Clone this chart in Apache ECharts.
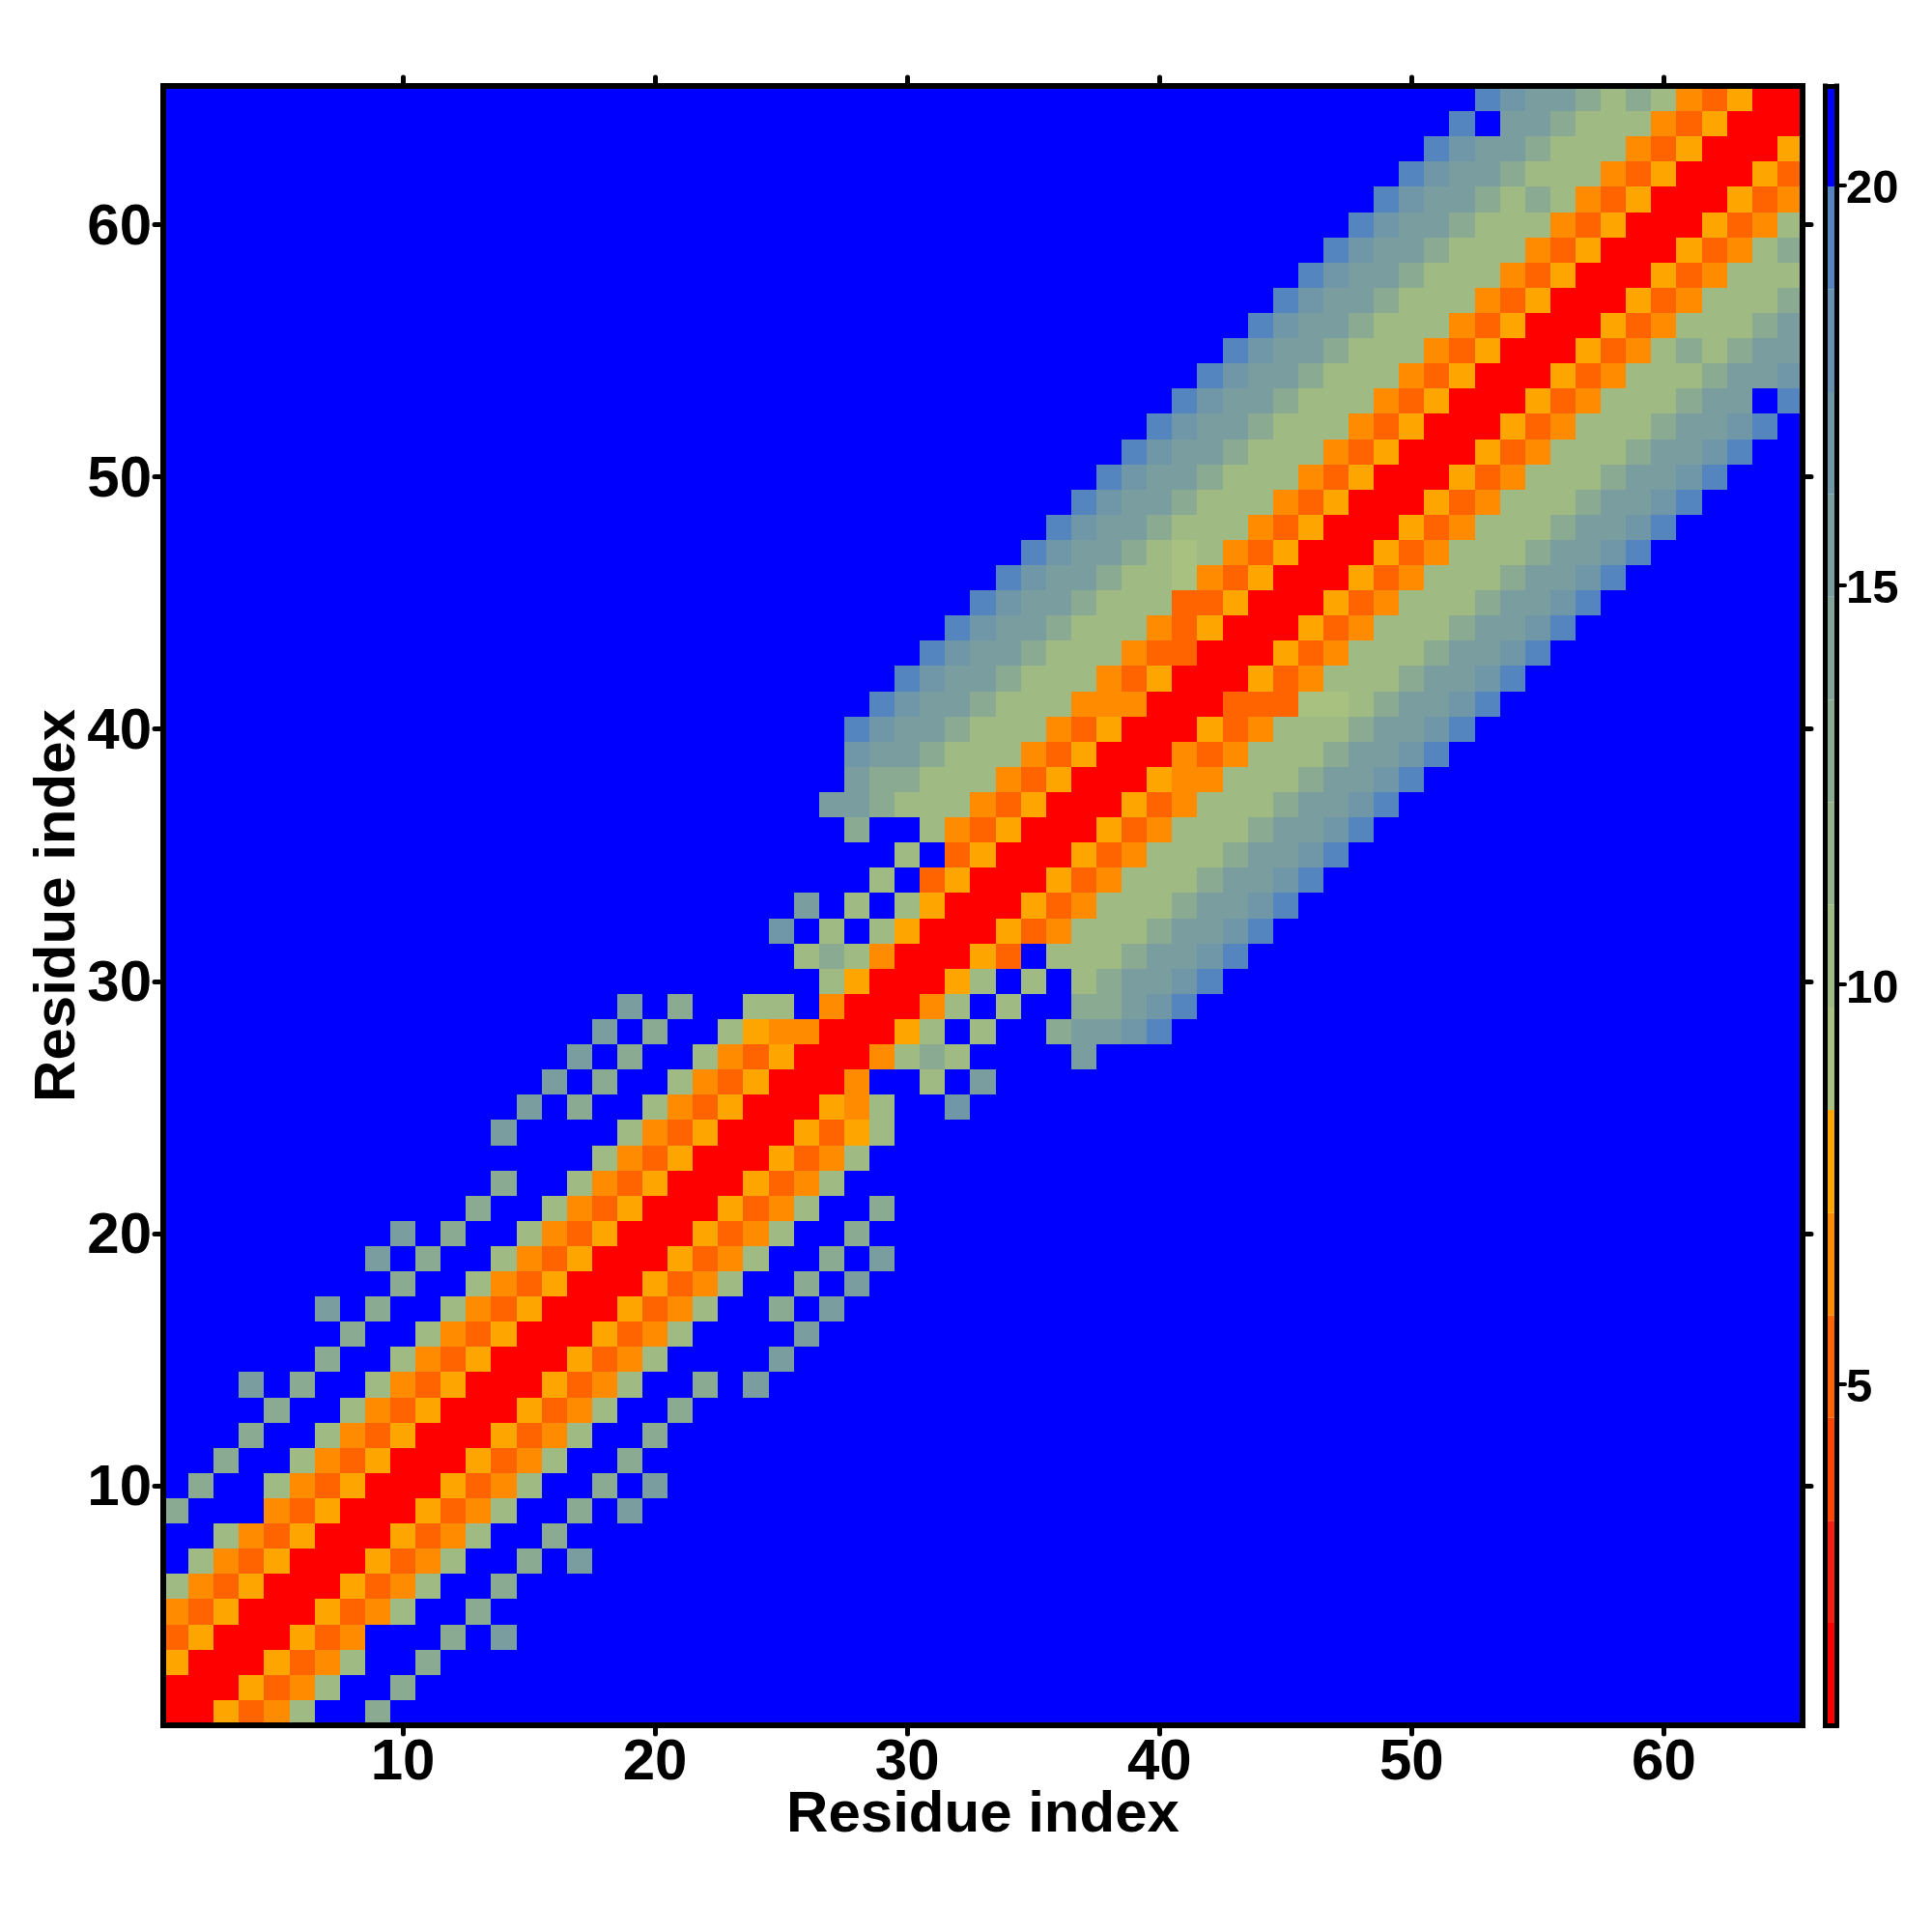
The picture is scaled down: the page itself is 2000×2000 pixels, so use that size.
<!DOCTYPE html>
<html>
<head>
<meta charset="utf-8">
<style>html,body{margin:0;padding:0;background:#fff}#chart{width:2000px;height:2000px}</style>
<script src="https://cdn.jsdelivr.net/npm/echarts@6/dist/echarts.min.js"></script>
</head>
<body>
<div id="chart"></div>
<script>
const residues = Array.from({length: 65}, (_, i) => String(i + 1));
const axisTitle = "Residue index";
const mainTickStep = 10;
const colorbarTicks = [5, 10, 15, 20];
const farDistance = 21;

// Upper half of the symmetric distance map: row i lists residues i, i+1, i+2, ...
// anything past the end of a row is farDistance.
const distanceRows = [
/*  1 */ [1.5,1.5,7.8,5.2,6.5,10.3,21,21,12.9],
/*  2 */ [1.5,1.5,7.8,5.2,6.5,10.3,21,21,12.9],
/*  3 */ [1.5,1.5,7.8,5.2,6.5,10.3,21,21,12.9],
/*  4 */ [1.5,1.5,7.8,5.2,6.5,21,21,21,12.9,21,15.5],
/*  5 */ [1.5,1.5,7.8,5.2,6.5,10.3,21,21,12.9],
/*  6 */ [1.5,1.5,7.8,5.2,6.5,10.3,21,21,12.9],
/*  7 */ [1.5,1.5,7.8,5.2,6.5,10.3,21,21,12.9,21,15.5],
/*  8 */ [1.5,1.5,7.8,5.2,6.5,10.3,21,21,12.9],
/*  9 */ [1.5,1.5,7.8,5.2,6.5,10.3,21,21,12.9,21,15.5],
/* 10 */ [1.5,1.5,7.8,5.2,6.5,10.3,21,21,12.9,21,15.5],
/* 11 */ [1.5,1.5,7.8,5.2,6.5,10.3,21,21,12.9],
/* 12 */ [1.5,1.5,7.8,5.2,6.5,10.3,21,21,12.9],
/* 13 */ [1.5,1.5,7.8,5.2,6.5,10.3,21,21,12.9],
/* 14 */ [1.5,1.5,7.8,5.2,6.5,10.3,21,21,12.9,21,15.5],
/* 15 */ [1.5,1.5,7.8,5.2,6.5,10.3,21,21,21,21,15.5],
/* 16 */ [1.5,1.5,7.8,5.2,6.5,10.3,21,21,21,21,15.5],
/* 17 */ [1.5,1.5,7.8,5.2,6.5,10.3,21,21,12.9,21,15.5],
/* 18 */ [1.5,1.5,7.8,5.2,6.5,10.3,21,21,12.9,21,15.5],
/* 19 */ [1.5,1.5,7.8,5.2,6.5,10.3,21,21,12.9,21,15.5],
/* 20 */ [1.5,1.5,7.8,5.2,6.5,10.3,21,21,12.9],
/* 21 */ [1.5,1.5,7.8,5.2,6.5,10.3,21,21,12.9],
/* 22 */ [1.5,1.5,7.8,5.2,6.5,10.3],
/* 23 */ [1.5,1.5,7.8,5.2,6.5,10.3],
/* 24 */ [1.5,1.5,7.8,5.2,7.8,10.3],
/* 25 */ [1.5,1.5,7.8,6.5,10.3,21,21,16.8],
/* 26 */ [1.5,1.5,6.5,21,21,10.3,21,15.5],
/* 27 */ [1.5,1.5,6.5,10.3,12.9,10.3,21,21,21,21,15.5],
/* 28 */ [1.5,1.5,7.8,10.3,21,10.3,21,21,12.9,15.5,15.5,16.8,19.4],
/* 29 */ [1.5,1.5,6.5,10.3,21,10.3,21,21,12.9,12.9,15.5,16.8,19.4],
/* 30 */ [1.5,1.5,7.8,10.3,21,10.3,21,10.3,12.9,15.5,15.5,16.8,19.4],
/* 31 */ [1.5,1.5,7.8,5.2,21,10.3,10.3,10.3,12.9,15.5,15.5,16.8,19.4],
/* 32 */ [1.5,1.5,7.8,5.2,6.5,10.3,10.3,10.3,12.9,15.5,15.5,16.8,19.4],
/* 33 */ [1.5,1.5,7.8,5.2,6.5,10.3,10.3,10.3,12.9,15.5,15.5,16.8,19.4],
/* 34 */ [1.5,1.5,7.8,5.2,6.5,10.3,10.3,10.3,12.9,15.5,15.5,16.8,19.4],
/* 35 */ [1.5,1.5,7.8,5.2,6.5,10.3,10.3,10.3,12.9,15.5,15.5,16.8,19.4],
/* 36 */ [1.5,1.5,7.8,5.2,6.5,10.3,10.3,10.3,12.9,15.5,15.5,16.8,19.4],
/* 37 */ [1.5,1.5,7.8,5.2,6.5,10.3,10.3,10.3,12.9,15.5,15.5,16.8,19.4],
/* 38 */ [1.5,1.5,7.8,6.5,6.5,10.3,10.3,10.3,12.9,15.5,15.5,16.8,19.4],
/* 39 */ [1.5,1.5,6.5,5.2,6.5,10.3,10.3,10.3,12.9,15.5,15.5,16.8,19.4],
/* 40 */ [1.5,1.5,7.8,5.2,6.5,10.3,10.3,10.3,12.9,15.5,15.5,16.8,19.4],
/* 41 */ [1.5,1.5,5.2,5.2,5.2,9,9,10.3,12.9,15.5,15.5,16.8,19.4],
/* 42 */ [1.5,1.5,7.8,5.2,6.5,10.3,10.3,10.3,12.9,15.5,15.5,16.8,19.4],
/* 43 */ [1.5,1.5,7.8,5.2,6.5,10.3,10.3,10.3,12.9,15.5,15.5,16.8,19.4],
/* 44 */ [1.5,1.5,7.8,5.2,6.5,10.3,10.3,10.3,12.9,15.5,15.5,16.8,19.4],
/* 45 */ [1.5,1.5,7.8,5.2,6.5,10.3,10.3,10.3,12.9,15.5,15.5,16.8,19.4],
/* 46 */ [1.5,1.5,7.8,5.2,6.5,10.3,10.3,10.3,12.9,15.5,15.5,16.8,19.4],
/* 47 */ [1.5,1.5,7.8,5.2,6.5,10.3,10.3,10.3,12.9,15.5,15.5,16.8,19.4],
/* 48 */ [1.5,1.5,7.8,5.2,6.5,10.3,10.3,10.3,12.9,15.5,15.5,16.8,19.4],
/* 49 */ [1.5,1.5,7.8,5.2,6.5,10.3,10.3,10.3,12.9,15.5,15.5,16.8,19.4],
/* 50 */ [1.5,1.5,7.8,5.2,6.5,10.3,10.3,10.3,12.9,15.5,15.5,16.8,19.4],
/* 51 */ [1.5,1.5,7.8,5.2,6.5,10.3,10.3,10.3,12.9,15.5,15.5,16.8,19.4],
/* 52 */ [1.5,1.5,7.8,5.2,6.5,10.3,10.3,10.3,12.9,15.5,15.5,16.8,19.4],
/* 53 */ [1.5,1.5,7.8,5.2,6.5,10.3,10.3,10.3,12.9,15.5,15.5,21,19.4],
/* 54 */ [1.5,1.5,7.8,5.2,6.5,10.3,10.3,10.3,12.9,15.5,15.5,16.8],
/* 55 */ [1.5,1.5,7.8,5.2,6.5,10.3,12.9,10.3,12.9,15.5,15.5],
/* 56 */ [1.5,1.5,7.8,5.2,6.5,10.3,10.3,10.3,12.9,15.5],
/* 57 */ [1.5,1.5,7.8,5.2,6.5,10.3,10.3,10.3,12.9],
/* 58 */ [1.5,1.5,7.8,5.2,6.5,10.3,10.3,10.3],
/* 59 */ [1.5,1.5,7.8,5.2,6.5,10.3,12.9],
/* 60 */ [1.5,1.5,7.8,5.2,6.5,10.3],
/* 61 */ [1.5,1.5,7.8,5.2,6.5],
/* 62 */ [1.5,1.5,7.8,5.2],
/* 63 */ [1.5,1.5,7.8],
/* 64 */ [1.5,1.5],
/* 65 */ [1.5]
];

const levelEdges = [0.73,2.01,3.29,4.58,5.86,7.14,8.43,9.71,11,12.28,13.56,14.85,16.13,17.41,18.7,19.98,21.24];
const levelColors = ["#ff0000","#f62010","#ff4600","#ff6400","#ff8c00","#ffa500",
  "#a8c080","#a0ba84","#96b28a","#8aaa92","#82a498","#7a9ea0","#7097a8","#6690b0","#5585bf","#0000ff"];

const pieces = levelColors.map((color, k) => ({gte: levelEdges[k], lt: levelEdges[k + 1], color}));
const bands = levelColors.map((_, k) => [levelEdges[k], levelEdges[k + 1], k]);

const cells = [];
residues.forEach((_, a) => residues.forEach((_, b) => {
  const lo = Math.min(a, b), hi = Math.max(a, b);
  const row = distanceRows[lo];
  const v = hi - lo < row.length ? row[hi - lo] : farDistance;
  cells.push([a, b, v]);
}));

const FONT = "Liberation Sans";
const frameLine = {show: true, onZero: false, lineStyle: {color: "#000", width: 6, cap: "square"}};
const everyTenth = (i, v) => Number(v) % mainTickStep === 0;
const mainTick = {show: true, alignWithLabel: true, length: 9, interval: everyTenth,
  lineStyle: {color: "#000", width: 5, cap: "round"}};
const mainLabel = {show: true, interval: everyTenth, color: "#000", fontFamily: FONT,
  fontWeight: "bold", fontSize: 60};
const titleStyle = {color: "#000", fontFamily: FONT, fontWeight: "bold", fontSize: 60};

const barLine = {show: true, onZero: false, lineStyle: {color: "#000", width: 5, cap: "square"}};

const chart = echarts.init(document.getElementById("chart"), null, {renderer: "canvas", width: 2000, height: 2000});
chart.setOption({
  animation: false,
  backgroundColor: "#fff",
  grid: [
    {left: 169, top: 89, width: 1697, height: 1697},
    {left: 1889.5, top: 89, width: 11.5, height: 1697}
  ],
  xAxis: [
    {type: "category", gridIndex: 0, data: residues, position: "bottom", z: 10, boundaryGap: true,
     axisLine: frameLine, axisTick: mainTick, axisLabel: {...mainLabel, margin: 9}, splitLine: {show: false},
     name: axisTitle, nameLocation: "middle", nameGap: 63, nameMoveOverlap: false, nameTextStyle: titleStyle},
    {type: "category", gridIndex: 0, data: residues, position: "top", z: 10, boundaryGap: true,
     axisLine: frameLine, axisTick: mainTick, axisLabel: {show: false}, splitLine: {show: false}},
    {type: "value", gridIndex: 1, min: 0, max: 1, position: "bottom", z: 10,
     axisLine: barLine, axisTick: {show: false}, axisLabel: {show: false}, splitLine: {show: false}},
    {type: "value", gridIndex: 1, min: 0, max: 1, position: "top", z: 10,
     axisLine: barLine, axisTick: {show: false}, axisLabel: {show: false}, splitLine: {show: false}}
  ],
  yAxis: [
    {type: "category", gridIndex: 0, data: residues, position: "left", z: 10, boundaryGap: true,
     axisLine: frameLine, axisTick: mainTick,
     axisLabel: {...mainLabel, margin: 12, formatter: v => `{n|${v}}`,
       rich: {n: {color: "#000", fontFamily: FONT, fontWeight: "bold", fontSize: 60, padding: [7, 0, 0, 0]}}},
     splitLine: {show: false},
     name: axisTitle, nameLocation: "middle", nameGap: 79, nameMoveOverlap: false, nameTextStyle: titleStyle},
    {type: "category", gridIndex: 0, data: residues, position: "right", z: 10, boundaryGap: true,
     axisLine: frameLine, axisTick: mainTick, axisLabel: {show: false}, splitLine: {show: false}},
    {type: "value", gridIndex: 1, min: levelEdges[0], max: levelEdges[levelEdges.length - 1], position: "left", z: 10,
     axisLine: barLine, axisTick: {show: false}, axisLabel: {show: false}, splitLine: {show: false}},
    {type: "value", gridIndex: 1, min: levelEdges[0], max: levelEdges[levelEdges.length - 1], position: "right", z: 10,
     axisLine: barLine,
     axisTick: {show: true, length: 9, customValues: colorbarTicks, lineStyle: {color: "#000", width: 4, cap: "round"}},
     axisLabel: {show: true, customValues: colorbarTicks, margin: 10, color: "#000", fontFamily: FONT,
       fontWeight: "bold", fontSize: 49, formatter: v => `{n|${v}}`,
       rich: {n: {color: "#000", fontFamily: FONT, fontWeight: "bold", fontSize: 49, padding: [10, 0, 0, 0]}}},
     splitLine: {show: false}}
  ],
  visualMap: {type: "piecewise", show: false, seriesIndex: 0, dimension: 2, pieces},
  series: [
    {type: "custom", xAxisIndex: 0, yAxisIndex: 0, data: cells, silent: true, clip: true,
     encode: {x: 0, y: 1},
     renderItem: (params, api) => {
       const c = api.coord([api.value(0), api.value(1)]);
       const s = api.size([1, 1]);
       const x0 = Math.round(c[0] - s[0] / 2), x1 = Math.round(c[0] + s[0] / 2);
       const y0 = Math.round(c[1] - s[1] / 2), y1 = Math.round(c[1] + s[1] / 2);
       return {type: "rect",
         shape: {x: x0, y: y0, width: x1 - x0, height: y1 - y0},
         style: {fill: api.visual("color")}};
     }},
    {type: "custom", xAxisIndex: 2, yAxisIndex: 2, data: bands, silent: true, clip: true,
     renderItem: (params, api) => {
       const p0 = api.coord([0, api.value(0)]);
       const p1 = api.coord([1, api.value(1)]);
       return {type: "rect",
         shape: {x: p0[0], y: p1[1], width: p1[0] - p0[0], height: p0[1] - p1[1]},
         style: {fill: levelColors[api.value(2)]}};
     }}
  ]
});
</script>
</body>
</html>
